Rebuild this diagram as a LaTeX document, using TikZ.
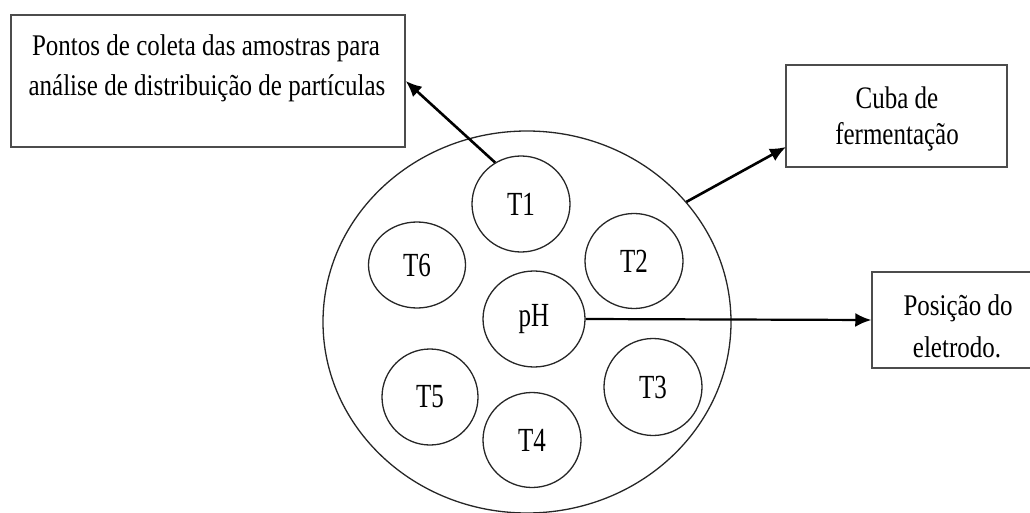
\documentclass[tikz,border=0pt]{standalone}
\usepackage{graphicx}
\usepackage{fontspec}
\setmainfont{Liberation Serif}
\usetikzlibrary{shapes.geometric,arrows.meta}
\newcommand\vstr[2][1.2]{\scalebox{1}[#1]{#2}}
\begin{document}
\begin{tikzpicture}[x=1pt,y=-1pt,
  box/.style={draw=black!70, line width=1.5pt, rectangle, inner sep=0pt},
  cell/.style={draw=black!85, line width=1.3pt, ellipse, inner sep=0pt, font=\fontsize{25}{30}\selectfont},
  txt/.style={anchor=base, inner sep=0pt, font=\fontsize{25}{30}\selectfont},
  arr/.style={line width=2.6pt, -{Latex[length=16pt,width=14pt]}}
]
\useasboundingbox (0,0) rectangle (1030,513);
\begin{scope}
\clip (0,0) rectangle (1030,513);
% boxes
\node[box, minimum width=394pt, minimum height=132pt] (box1) at (208,81) {};
\node[txt] (l1a) at (206,56) {\vstr{Pontos de coleta das amostras para}};
\node[txt] (l1b) at (207,96) {\vstr{análise de distribuição de partículas}};

\node[box, minimum width=221pt, minimum height=102pt] (box2) at (896.5,116) {};
\node[txt] (l2a) at (897,109) {\vstr[1.25]{Cuba de}};
\node[txt] (l2b) at (897,145) {\vstr[1.25]{fermentação}};

\node[box, minimum width=172pt, minimum height=96pt] (box3) at (958,320) {};
\node[txt] (l3a) at (958,315) {\vstr{Posição do}};
\node[txt] (l3b) at (957,357) {\vstr{eletrodo.}};

% tub
\node[cell, minimum width=408pt, minimum height=382pt] (tub) at (527,322) {};

% cells
\node[cell, minimum width=98pt, minimum height=96pt] (T1) at (521,204) {\vstr[1.35]{T1}};
\node[cell, minimum width=97pt, minimum height=86pt] (T6) at (417,265) {\vstr[1.35]{T6}};
\node[cell, minimum width=98pt, minimum height=95pt] (T2) at (634,261) {\vstr[1.35]{T2}};
\node[cell, minimum width=102pt, minimum height=96pt] (pH) at (534,319) {\vstr[1.35]{pH}};
\node[cell, minimum width=96pt, minimum height=96pt] (T5) at (430,397) {\vstr[1.35]{T5}};
\node[cell, minimum width=98pt, minimum height=95pt] (T4) at (532,440) {\vstr[1.35]{T4}};
\node[cell, minimum width=98pt, minimum height=97pt] (T3) at (653,387) {\vstr[1.35]{T3}};

% connectors
\coordinate (c2) at (786,147);
\draw[arr] (T1.122) -- (box1.east);
\draw[arr] (tub.37) -- (c2);
\draw[arr, line width=2.2pt] (pH.east) -- (box3.west);
\end{scope}
\end{tikzpicture}
\end{document}
